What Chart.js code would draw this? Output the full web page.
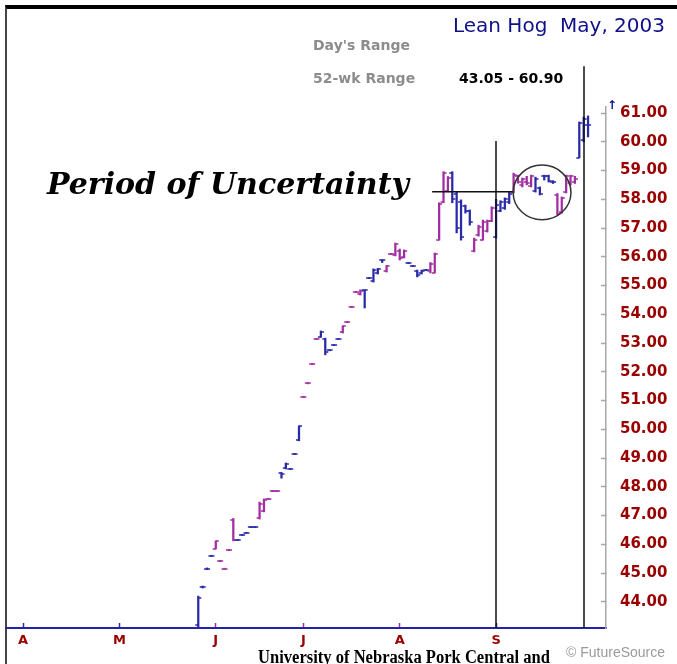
<!DOCTYPE html>
<html lang="en">
<head>
<meta charset="UTF-8">
<title>Lean Hog May, 2003</title>
<script src="https://cdn.jsdelivr.net/npm/chart.js"></script>
<style>
  html, body { margin: 0; padding: 0; background: #fff; }
  body { width: 677px; height: 664px; position: relative; overflow: hidden; }
  #frame { position: absolute; left: 5px; top: 5px; right: 0; bottom: 0; border-top: 4px solid #000; border-left: 2px solid #444; }
  #hogChart { position: absolute; left: 0; top: 0; }
  .txt { position: absolute; white-space: nowrap; transform-origin: left top; }
  #title { right: 12px; top: 15px; font: 20px/20px "DejaVu Sans"; color: #10108a; }
  .info { font: bold 14px/14px "DejaVu Sans"; color: #8c8c8c; left: 313px; }
  #range52 { left: 459px; top: 71px; font: bold 14px/14px "DejaVu Sans"; color: #000; }
  #arrow { left: 607px; top: 99px; font: bold 12px/12px "DejaVu Sans"; color: #10108a; }
  #note { left: 47px; top: 169px; font: italic bold 30px/30px "DejaVu Serif"; color: #000; }
  #credit { left: 258px; top: 648px; font: bold 18px/18px "Liberation Serif"; color: #000; }
  #source { left: 566px; top: 645px; font: 14px/14px "Liberation Sans"; color: #9a9a9a; }
</style>
</head>
<body>
<div id="frame"></div>
<canvas id="hogChart" width="677" height="664"></canvas>
<div class="txt" id="title">Lean Hog&nbsp; May, 2003</div>
<div class="txt info" style="top:38px">Day's Range</div>
<div class="txt info" style="top:71px">52-wk Range</div>
<div class="txt" id="range52">43.05 - 60.90</div>
<div class="txt" id="arrow">↑</div>
<div class="txt" id="note" data-w="362">Period of Uncertainty</div>
<div class="txt" id="credit" data-w="292">University of Nebraska Pork Central and</div>
<div class="txt" id="source">© FutureSource</div>
<script>
    // trading calendar
    var axisStart = '2002-04-01';
    var firstBar = '2002-05-28';
    var holidays = ['2002-05-27', '2002-07-04', '2002-09-02'];
    var monthLabels = ['A', 'M', 'J', 'J', 'A', 'S'];
    var yTicks = [44, 45, 46, 47, 48, 49, 50, 51, 52, 53, 54, 55, 56, 57, 58, 59, 60, 61];

    // daily OHLC, one entry per trading day from firstBar
    var opens = [43.2, 44.5, 45.15, 45.6, 45.85, 45.42, 45.15, 45.8, 46.85, 46.15,
        46.33, 46.4, 46.6, 46.6, 46.9, 47.15, 47.58, 47.85, 47.85, 48.48,
        48.65, 48.62, 49.14, 49.62, 51.13, 51.6, 52.27, 53.14, 53.22, 53.15,
        52.75, 52.93, 53.14, 53.37, 53.73, 54.25, 54.78, 54.7, 54.83, 55.26,
        55.15, 55.42, 55.88, 55.5, 56.1, 56.05, 56.2, 56.0, 55.78, 55.68,
        55.5, 55.45, 55.54, 55.5, 55.45, 56.6, 57.9, 58.3, 58.9, 58.2,
        57.9, 57.75, 57.6, 56.2, 56.75, 56.6, 56.9, 57.25, 56.7, 57.6,
        57.7, 57.9, 58.25, 58.8, 58.5, 58.6, 58.45, 58.3, 58.4, 58.82,
        58.8, 58.6, 58.15, 57.55, 58.25, 58.55, 58.6, 59.45, 60.05, 60.6];
    var highs = [44.2, 44.55, 45.18, 45.62, 46.12, 45.44, 45.17, 45.82, 46.9, 46.17,
        46.35, 46.42, 46.62, 46.62, 47.47, 47.58, 47.6, 47.87, 47.87, 48.5,
        48.83, 48.64, 49.16, 50.12, 51.15, 51.62, 52.29, 53.16, 53.42, 53.17,
        52.77, 52.95, 53.16, 53.6, 53.75, 54.27, 54.8, 54.85, 54.85, 55.28,
        55.58, 55.6, 55.9, 55.7, 56.12, 56.48, 56.27, 56.24, 55.8, 55.7,
        55.54, 55.54, 55.56, 55.8, 56.13, 57.88, 58.96, 58.79, 58.96, 58.26,
        57.98, 57.8, 57.63, 56.65, 57.1, 57.28, 57.28, 57.74, 58.0, 57.95,
        58.05, 58.25, 58.91, 58.84, 58.74, 58.8, 58.84, 58.77, 58.43, 58.84,
        58.84, 58.65, 58.2, 58.08, 58.84, 58.84, 58.8, 60.69, 60.86, 60.9];
    var lows = [43.1, 44.48, 45.12, 45.58, 45.84, 45.4, 45.13, 45.78, 46.12, 46.13,
        46.31, 46.38, 46.58, 46.58, 46.88, 47.13, 47.56, 47.83, 47.83, 48.3,
        48.62, 48.6, 49.12, 49.6, 51.11, 51.58, 52.25, 53.12, 53.2, 52.59,
        52.73, 52.91, 53.12, 53.35, 53.71, 54.23, 54.76, 54.67, 54.22, 55.24,
        55.12, 55.4, 55.8, 55.47, 56.08, 56.03, 55.89, 55.96, 55.76, 55.66,
        55.3, 55.4, 55.52, 55.44, 55.44, 56.58, 57.88, 58.26, 57.88, 56.83,
        56.58, 57.52, 57.1, 56.17, 56.72, 56.58, 56.86, 57.22, 56.65, 57.57,
        57.65, 57.85, 58.22, 58.56, 58.43, 58.5, 58.43, 58.25, 58.15, 58.67,
        58.6, 58.55, 57.45, 57.52, 58.22, 58.5, 58.55, 59.44, 60.0, 60.17];
    var closes = [44.15, 44.52, 45.15, 45.6, 46.1, 45.42, 45.15, 45.8, 46.14, 46.15,
        46.33, 46.4, 46.6, 46.6, 47.4, 47.55, 47.58, 47.85, 47.85, 48.46,
        48.8, 48.62, 49.14, 50.1, 51.13, 51.6, 52.27, 53.14, 53.4, 52.7,
        52.75, 52.93, 53.14, 53.58, 53.73, 54.25, 54.78, 54.82, 54.85, 55.26,
        55.55, 55.58, 55.9, 55.68, 56.1, 56.45, 55.95, 56.2, 55.78, 55.68,
        55.35, 55.5, 55.54, 55.75, 56.1, 57.85, 58.9, 58.75, 58.0, 57.0,
        56.7, 57.6, 57.2, 56.6, 57.05, 57.2, 57.25, 57.7, 57.8, 57.9,
        58.0, 58.2, 58.85, 58.6, 58.7, 58.55, 58.8, 58.7, 58.2, 58.8,
        58.62, 58.6, 57.5, 58.05, 58.8, 58.8, 58.7, 60.65, 60.8, 60.57];

    var BLUE = '#2a2aa8';
    var PURPLE = '#a02ea0';
    var DAY = 86400000;

    function parseDay(s) {
        var p = s.split('-').map(Number);
        return Date.UTC(p[0], p[1] - 1, p[2]);
    }

    // build the list of trading days (weekends and holidays skipped)
    var tradingDays = [];
    for (var t = parseDay(axisStart); tradingDays.length < 150; t += DAY) {
        var d = new Date(t);
        var wd = d.getUTCDay();
        if (wd === 0 || wd === 6 || holidays.indexOf(d.toISOString().slice(0, 10)) >= 0) continue;
        tradingDays.push(t);
    }
    function idxOf(s) { return tradingDays.indexOf(parseDay(s)); }

    // bars alternate colour week by week
    function colorAt(i) {
        var w = Math.floor((tradingDays[Math.round(i)] - tradingDays[0]) / (7 * DAY));
        return w % 2 === 0 ? BLUE : PURPLE;
    }

    // first trading day of each month -> x tick
    var monthTicks = [];
    tradingDays.forEach(function(td, i) {
        var m = new Date(td).getUTCMonth();
        if (i === 0 || new Date(tradingDays[i - 1]).getUTCMonth() !== m) {
            if (monthTicks.length < monthLabels.length) monthTicks.push(i);
        }
    });

    var i0 = idxOf(firstBar);
    var rangeData = [], openData = [], closeData = [];
    opens.forEach(function(o, k) {
        if (o == null) return;
        rangeData.push({x: i0 + k, y: [lows[k], highs[k]]});
        openData.push({x: i0 + k, y: o});
        closeData.push({x: i0 + k, y: closes[k]});
    });

    // little open / close ticks as point images
    function tickImg(color, side) {
        var c = document.createElement('canvas');
        c.width = 8; c.height = 2;
        var g = c.getContext('2d');
        g.fillStyle = color;
        g.fillRect(side === 'open' ? 1 : 4, 0.25, 3, 1.5);
        return c;
    }
    var tickImgs = {
        open: {}, close: {}
    };
    tickImgs.open[BLUE] = tickImg(BLUE, 'open');
    tickImgs.open[PURPLE] = tickImg(PURPLE, 'open');
    tickImgs.close[BLUE] = tickImg(BLUE, 'close');
    tickImgs.close[PURPLE] = tickImg(PURPLE, 'close');

    var guides = {
        id: 'guides',
        afterDraw: function(chart, args, opts) {
            var ctx = chart.ctx, x = chart.scales.x, y = chart.scales.y;
            var bottom = chart.chartArea.bottom;
            ctx.save();
            ctx.strokeStyle = '#111';
            ctx.lineWidth = 1.5;
            opts.vLines.forEach(function(v) {
                var px = Math.round(x.getPixelForValue(idxOf(v.date)));
                ctx.beginPath();
                ctx.moveTo(px, y.getPixelForValue(v.top));
                ctx.lineTo(px, bottom);
                ctx.stroke();
            });
            var c = opts.circle;
            var cx = x.getPixelForValue(c.x), cy = y.getPixelForValue(c.y);
            var rx = x.getPixelForValue(c.x + c.rx) - cx;
            var ry = cy - y.getPixelForValue(c.y + c.ry);
            ctx.beginPath();
            ctx.moveTo(x.getPixelForValue(opts.pointer.from), y.getPixelForValue(opts.pointer.y));
            ctx.lineTo(cx - rx, y.getPixelForValue(opts.pointer.y));
            ctx.stroke();
            ctx.strokeStyle = '#333';
            ctx.beginPath();
            ctx.ellipse(cx, cy, rx, ry, 0, 0, Math.PI * 2);
            ctx.stroke();
            ctx.restore();
        }
    };

    var ctx = document.getElementById('hogChart').getContext('2d');
    var hogChart = new Chart(ctx, {
        type: 'bar',
        data: {
            datasets: [{
                type: 'bar',
                data: rangeData,
                backgroundColor: function(c) { return colorAt(c.raw.x); },
                barThickness: 1.6,
                borderWidth: 0
            }, {
                type: 'scatter',
                data: openData,
                pointRadius: 4,
                pointStyle: function(c) { return tickImgs.open[colorAt(c.raw ? c.raw.x : 0)]; }
            }, {
                type: 'scatter',
                data: closeData,
                pointRadius: 4,
                pointStyle: function(c) { return tickImgs.close[colorAt(c.raw ? c.raw.x : 0)]; }
            }]
        },
        options: {
            responsive: false,
            animation: false,
            events: [],
            layout: {
                padding: { left: 6, top: 107, right: 0, bottom: 0 }
            },
            plugins: {
                legend: { display: false },
                tooltip: { enabled: false },
                guides: {
                    vLines: [{date: '2002-09-03', top: 60.03}, {date: '2002-10-01', top: 62.63}],
                    pointer: {from: 93.4, y: 58.26},
                    circle: {x: 118.5, y: 58.24, rx: 6.6, ry: 0.95}
                }
            },
            scales: {
                x: {
                    type: 'linear',
                    position: 'bottom',
                    min: -3.9,
                    max: 133.1,
                    offset: false,
                    afterBuildTicks: function(s) { s.ticks = monthTicks.map(function(v) { return {value: v}; }); },
                    afterFit: function(s) { s.height = 36; },
                    border: { color: '#2323a8', width: 2 },
                    grid: {
                        offset: false,
                        drawOnChartArea: false,
                        tickLength: -5,
                        tickWidth: 1.5,
                        tickColor: function(c) { return c.tick ? colorAt(c.tick.value) : BLUE; }
                    },
                    ticks: {
                        autoSkip: false,
                        maxRotation: 0,
                        padding: 10,
                        color: '#990000',
                        font: { family: 'DejaVu Sans', weight: 'bold', size: 13 },
                        callback: function(v, k) { return monthLabels[k]; }
                    }
                },
                y: {
                    position: 'right',
                    min: 43.09,
                    max: 61.21,
                    afterBuildTicks: function(s) { s.ticks = yTicks.map(function(v) { return {value: v}; }); },
                    afterFit: function(s) { s.width = 71; },
                    border: { color: '#a8a8a8', width: 1.5 },
                    grid: {
                        drawOnChartArea: false,
                        tickLength: -5,
                        tickWidth: 1.5,
                        tickColor: '#a8a8a8'
                    },
                    ticks: {
                        padding: 19,
                        color: '#990000',
                        font: { family: 'DejaVu Sans', weight: 'bold', size: 15 },
                        callback: function(v) { return v.toFixed(2); }
                    }
                }
            }
        },
        plugins: [guides]
    });

    // stretch the annotation texts to the widths they have on the original
    document.querySelectorAll('[data-w]').forEach(function(el) {
        var w = el.getBoundingClientRect().width;
        el.style.transform = 'scaleX(' + (el.dataset.w / w) + ')';
    });
</script>
</body>
</html>
